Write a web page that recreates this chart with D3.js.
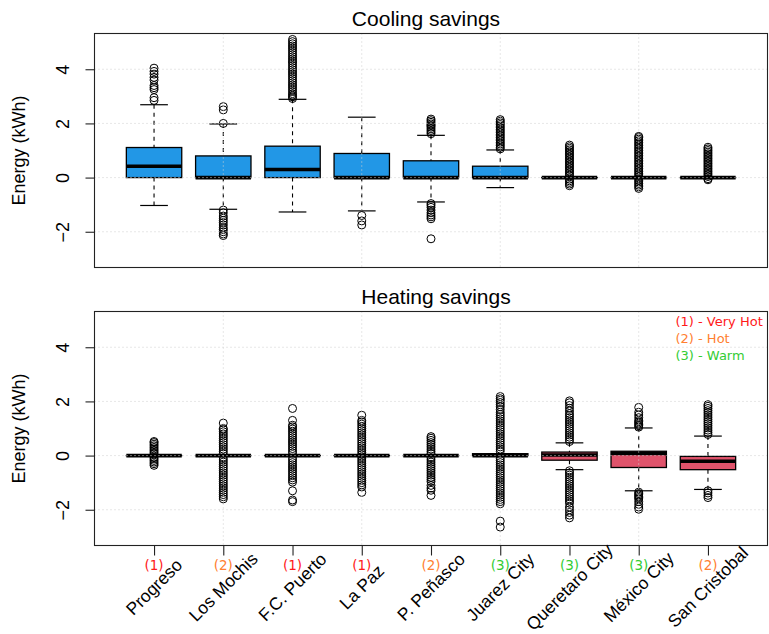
<!DOCTYPE html>
<html>
<head>
<meta charset="utf-8">
<script src="https://cdn.jsdelivr.net/npm/d3@7"></script>
<style>
  html, body { margin: 0; padding: 0; background: #fff; }
  svg { display: block; }
</style>
</head>
<body>
<div id="chart"></div>
<script>
// ---------------- DATA ----------------
const cities = ["Progreso", "Los Mochis", "F.C. Puerto", "La Paz", "P. Peñasco",
                "Juarez City", "Queretaro City", "México City", "San Cristobal"];
const climateZone = [1, 2, 1, 1, 2, 3, 3, 3, 2];
const zoneLegend = ["(1) - Very Hot", "(2) - Hot", "(3) - Warm"];
const yTicks = [-2, 0, 2, 4];
const xGridAt = [2, 4, 6, 8];

// Cooling savings: whisker low, Q1, median, Q3, whisker high
const coolLow  = [-1.03, -1.17, -1.27, -1.23, -0.90, -0.37, 0, 0, 0];
const coolQ1   = [0, 0, 0, 0, 0, 0, 0, 0, 0];
const coolMed  = [0.42, 0, 0.30, 0, 0, 0, 0, 0, 0];
const coolQ3   = [1.11, 0.80, 1.16, 0.89, 0.62, 0.42, 0, 0, 0];
const coolHigh = [2.69, 1.98, 2.89, 2.23, 1.56, 1.02, 0, 0, 0];
const coolOut = [
  [2.85, 2.95, 3.25, 3.32, 3.4, 3.6, 3.7, 3.82, 3.92, 4.04],
  [2.0, 2.5, 2.62, -1.2, -1.3, -1.42, -1.5, -1.58, -1.66, -1.75, -1.85, -1.92, -2.0, -2.08, -2.14],
  [2.92, 2.98, 3.04, 3.1, 3.18, 3.26, 3.34, 3.42, 3.5, 3.58, 3.66, 3.74, 3.82, 3.9, 3.98, 4.06,
   4.14, 4.22, 4.3, 4.38, 4.46, 4.54, 4.62, 4.7, 4.78, 4.86, 4.94, 5.02, 5.1],
  [-1.4, -1.6, -1.75],
  [1.62, 1.68, 1.74, 1.8, 1.86, 1.92, 1.98, 2.04, 2.1, 2.16, -0.96, -1.02, -1.1, -1.2, -1.3,
   -1.38, -1.45, -1.52, -2.26],
  [1.06, 1.12, 1.18, 1.24, 1.3, 1.36, 1.42, 1.48, 1.54, 1.6, 1.66, 1.72, 1.78, 1.84, 1.9, 1.96,
   2.02, 2.08, 2.14],
  [-0.3, -0.24, -0.18, -0.12, -0.06, 0.06, 0.12, 0.18, 0.24, 0.3, 0.36, 0.42, 0.48, 0.54, 0.6,
   0.66, 0.72, 0.78, 0.84, 0.9, 0.96, 1.02, 1.08, 1.14, 1.2],
  [-0.4, -0.34, -0.28, -0.22, -0.16, -0.1, -0.04, 0.04, 0.1, 0.16, 0.22, 0.28, 0.34, 0.4, 0.46,
   0.52, 0.58, 0.64, 0.7, 0.76, 0.82, 0.88, 0.94, 1.0, 1.06, 1.12, 1.18, 1.24, 1.3, 1.36, 1.42,
   1.48, 1.52],
  [-0.08, -0.04, 0.04, 0.1, 0.16, 0.22, 0.28, 0.34, 0.4, 0.46, 0.52, 0.58, 0.64, 0.7, 0.76, 0.82,
   0.88, 0.94, 1.0, 1.06, 1.12]
];

// Heating savings
const heatLow  = [0, 0, 0, 0, 0, 0, -0.52, -1.30, -1.25];
const heatQ1   = [0, 0, 0, 0, 0, 0, -0.17, -0.44, -0.52];
const heatMed  = [0, 0, 0, 0, 0, 0, 0.02, 0.08, -0.21];
const heatQ3   = [0, 0, 0, 0, 0, 0.07, 0.13, 0.16, -0.03];
const heatHigh = [0, 0, 0, 0, 0, 0.07, 0.47, 1.02, 0.72];
const heatOut = [
  [-0.36, -0.3, -0.24, -0.18, -0.12, -0.06, 0.06, 0.12, 0.18, 0.24, 0.3, 0.36, 0.42, 0.48, 0.52],
  [-1.6, -1.52, -1.44, -1.36, -1.28, -1.2, -1.12, -1.04, -0.96, -0.88, -0.8, -0.72, -0.64, -0.56,
   -0.48, -0.4, -0.32, -0.24, -0.16, -0.08, 0.08, 0.16, 0.24, 0.32, 0.4, 0.48, 0.56, 0.64, 0.72,
   0.8, 0.88, 0.96, 1.0, 1.2],
  [-1.7, -1.64, -1.3, -0.98, -0.9, -0.82, -0.74, -0.66, -0.58, -0.5, -0.42, -0.34, -0.26, -0.18,
   -0.1, 0.1, 0.18, 0.26, 0.34, 0.42, 0.5, 0.58, 0.66, 0.74, 0.82, 0.9, 0.98, 1.06, 1.12, 1.3, 1.74],
  [-1.36, -1.16, -1.08, -1.0, -0.92, -0.84, -0.76, -0.68, -0.6, -0.52, -0.44, -0.36, -0.28, -0.2,
   -0.12, -0.04, 0.04, 0.12, 0.2, 0.28, 0.36, 0.44, 0.52, 0.6, 0.68, 0.76, 0.84, 0.92, 1.0, 1.08,
   1.16, 1.24, 1.3, 1.49],
  [-1.47, -1.28, -1.2, -1.1, -0.96, -0.88, -0.8, -0.72, -0.64, -0.56, -0.48, -0.4, -0.32, -0.24,
   -0.16, -0.08, 0.08, 0.16, 0.24, 0.32, 0.4, 0.48, 0.56, 0.64, 0.7],
  [-2.64, -2.42, -1.78, -1.7, -1.62, -1.54, -1.46, -1.38, -1.3, -1.22, -1.14, -1.06, -0.98, -0.9,
   -0.82, -0.74, -0.66, -0.58, -0.5, -0.42, -0.34, -0.26, -0.18, -0.1, 0.16, 0.24, 0.32, 0.4, 0.48,
   0.56, 0.64, 0.72, 0.8, 0.88, 0.96, 1.04, 1.12, 1.2, 1.28, 1.36, 1.44, 1.52, 1.6, 1.7, 1.8, 1.88,
   1.96, 2.04, 2.1, 2.18],
  [0.52, 0.6, 0.68, 0.76, 0.84, 0.92, 1.0, 1.08, 1.16, 1.24, 1.32, 1.4, 1.48, 1.55, 1.65, 1.75,
   1.85, 1.95, 2.02, -0.56, -0.64, -0.72, -0.8, -0.88, -0.96, -1.04, -1.12, -1.2, -1.28, -1.36,
   -1.44, -1.52, -1.6, -1.68, -1.76, -1.9, -2.0, -2.1, -2.2, -2.3],
  [1.05, 1.1, 1.15, 1.2, 1.25, 1.3, 1.4, 1.5, 1.6, 1.78, -1.35, -1.4, -1.45, -1.5, -1.55, -1.6,
   -1.7, -1.8, -1.9, -1.98],
  [0.78, 0.86, 0.94, 1.02, 1.1, 1.18, 1.26, 1.34, 1.42, 1.5, 1.58, 1.66, 1.74, 1.82, 1.88,
   -1.3, -1.38, -1.47, -1.55]
];

const zoneColors = { 1: "#ff1a1a", 2: "#ff8030", 3: "#33cc33" };
const coolFill = "#2297E6";
const heatFill = "#DF536B";

// ---------------- LAYOUT ----------------
const W = 769, H = 634;
const left = 94.5, right = 767.5;
const svg = d3.select("#chart").append("svg").attr("width", W).attr("height", H)
  .style("font-family", "'Liberation Sans', Arial, Helvetica, sans-serif");
svg.append("rect").attr("width", W).attr("height", H).attr("fill", "#fff");

const x = d3.scaleLinear().domain([0.14, 9.86]).range([left, right]);
const boxW = x(0.8) - x(0);

function panel(top, bottom, title, titleX, titleY, low, q1, med, q3, high, outs, fill, showX) {
  const y = d3.scaleLinear().domain([-3.32, 5.32]).range([bottom, top]);
  const g = svg.append("g");
  const idx = d3.range(cities.length);

  // whiskers (dashed)
  g.selectAll(".wl").data(idx).enter().append("line")
    .attr("x1", i => x(i + 1)).attr("x2", i => x(i + 1))
    .attr("y1", i => y(high[i])).attr("y2", i => y(q3[i]))
    .attr("stroke", "#000").attr("stroke-width", 1.1).attr("stroke-dasharray", "4,4");
  g.selectAll(".wl2").data(idx).enter().append("line")
    .attr("x1", i => x(i + 1)).attr("x2", i => x(i + 1))
    .attr("y1", i => y(q1[i])).attr("y2", i => y(low[i]))
    .attr("stroke", "#000").attr("stroke-width", 1.1).attr("stroke-dasharray", "4,4");
  // staples
  [high, low].forEach(arr => {
    g.selectAll(null).data(idx).enter().append("line")
      .attr("x1", i => x(i + 1) - boxW / 4).attr("x2", i => x(i + 1) + boxW / 4)
      .attr("y1", i => y(arr[i])).attr("y2", i => y(arr[i]))
      .attr("stroke", "#000").attr("stroke-width", 1.2);
  });
  // boxes
  g.selectAll(".box").data(idx).enter().append("rect")
    .attr("x", i => x(i + 1) - boxW / 2).attr("width", boxW)
    .attr("y", i => y(q3[i])).attr("height", i => Math.max(0.01, y(q1[i]) - y(q3[i])))
    .attr("fill", fill).attr("stroke", "#000").attr("stroke-width", 1.3);
  // medians
  g.selectAll(".med").data(idx).enter().append("line")
    .attr("x1", i => x(i + 1) - boxW / 2).attr("x2", i => x(i + 1) + boxW / 2)
    .attr("y1", i => y(med[i])).attr("y2", i => y(med[i]))
    .attr("stroke", "#000").attr("stroke-width", 3.6);
  // outliers
  idx.forEach(i => {
    g.selectAll(null).data(outs[i]).enter().append("circle")
      .attr("cx", x(i + 1)).attr("cy", v => y(v)).attr("r", 4)
      .attr("fill", "none").attr("stroke", "#000").attr("stroke-width", 1);
  });

  // grid (drawn on top, like R's grid())
  g.selectAll(".gy").data(yTicks).enter().append("line")
    .attr("x1", left).attr("x2", right).attr("y1", d => y(d)).attr("y2", d => y(d))
    .attr("stroke", "#cfcfcf").attr("stroke-width", 1).attr("stroke-dasharray", "1,3");
  g.selectAll(".gx").data(xGridAt).enter().append("line")
    .attr("x1", d => x(d)).attr("x2", d => x(d)).attr("y1", top).attr("y2", bottom)
    .attr("stroke", "#cfcfcf").attr("stroke-width", 1).attr("stroke-dasharray", "1,3");

  // frame
  g.append("rect").attr("x", left).attr("y", top).attr("width", right - left).attr("height", bottom - top)
    .attr("fill", "none").attr("stroke", "#222").attr("stroke-width", 1.1);

  // y axis
  const yAxis = d3.axisLeft(y).tickValues(yTicks).tickSize(9).tickPadding(0)
    .tickFormat(d => d < 0 ? "\u2212" + Math.abs(d) : String(d));
  const ya = g.append("g").attr("transform", `translate(${left},0)`).call(yAxis);
  ya.select(".domain").attr("stroke", "#222").attr("d", `M0,${y(-2)}V${y(4)}`);
  ya.selectAll(".tick line").attr("stroke", "#222").attr("stroke-width", 1.1);
  ya.selectAll(".tick text")
    .attr("x", null).attr("dy", null)
    .attr("transform", "translate(-26,0) rotate(-90)")
    .attr("text-anchor", "middle")
    .attr("fill", "#000")
    .style("font-size", "18px")
    .style("font-family", "'Liberation Sans', Arial, sans-serif");

  // y label
  svg.append("text")
    .attr("transform", `translate(25,${(top + bottom) / 2}) rotate(-90)`)
    .attr("text-anchor", "middle").style("font-size", "18px").text("Energy (kWh)");

  // title
  svg.append("text").attr("x", titleX).attr("y", titleY)
    .attr("text-anchor", "middle").style("font-size", "21px").text(title);

  if (showX) {
    const xa = g.append("g").attr("transform", `translate(0,${bottom})`)
      .call(d3.axisBottom(x).tickValues(idx.map(i => i + 1)).tickSize(10).tickFormat(""));
    xa.select(".domain").remove();
    xa.selectAll(".tick line").attr("stroke", "#222").attr("stroke-width", 1.1);

    // climate zone labels
    g.selectAll(".zone").data(idx).enter().append("text")
      .attr("x", i => x(i + 1)).attr("y", 570)
      .attr("text-anchor", "middle")
      .style("font-family", "'DejaVu Sans', sans-serif").style("font-size", "13.5px")
      .attr("fill", i => zoneColors[climateZone[i]])
      .text(i => "(" + climateZone[i] + ")");

    // city names rotated 45 degrees
    g.selectAll(".city").data(idx).enter().append("text")
      .attr("transform", i => `translate(${x(i + 1)},587) rotate(-45)`)
      .attr("text-anchor", "middle").attr("dominant-baseline", "central")
      .style("font-size", "17.5px")
      .text(i => cities[i]);

    // legend
    const lg = g.append("g");
    lg.selectAll("text").data(zoneLegend).enter().append("text")
      .attr("x", 675.5).attr("y", (d, i) => 325.5 + i * 17)
      .style("font-family", "'DejaVu Sans', sans-serif").style("font-size", "13px")
      .attr("fill", (d, i) => zoneColors[i + 1])
      .text(d => d);
  }
}

panel(33.5, 267.5, "Cooling savings", 426, 26, coolLow, coolQ1, coolMed, coolQ3, coolHigh, coolOut, coolFill, false);
panel(311.5, 545.5, "Heating savings", 436, 303.5, heatLow, heatQ1, heatMed, heatQ3, heatHigh, heatOut, heatFill, true);
</script>
</body>
</html>
